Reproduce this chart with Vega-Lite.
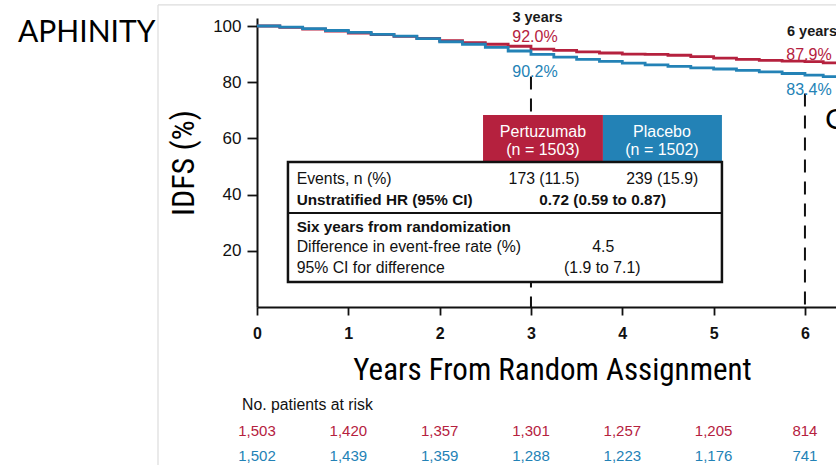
{
  "$schema": "https://vega.github.io/schema/vega-lite/v6.json",
  "width": 579,
  "height": 289,
  "autosize": {"type": "none"},
  "padding": {"left": 257, "top": 18, "right": 0, "bottom": 158},
  "background": "white",
  "config": {"view": {"stroke": null}, "font": "Liberation Sans"},
  "datasets": {
    "km": [
      {"arm": "Pertuzumab", "x": 0, "y": 100}, {"arm": "Pertuzumab", "x": 0.25, "y": 99.5}, {"arm": "Pertuzumab", "x": 0.5, "y": 98.9}, {"arm": "Pertuzumab", "x": 0.75, "y": 98.2},
      {"arm": "Pertuzumab", "x": 1.0, "y": 97.5}, {"arm": "Pertuzumab", "x": 1.25, "y": 96.9}, {"arm": "Pertuzumab", "x": 1.5, "y": 96.3}, {"arm": "Pertuzumab", "x": 1.75, "y": 95.6},
      {"arm": "Pertuzumab", "x": 2.0, "y": 94.8}, {"arm": "Pertuzumab", "x": 2.25, "y": 94.1}, {"arm": "Pertuzumab", "x": 2.5, "y": 93.5}, {"arm": "Pertuzumab", "x": 2.75, "y": 92.8},
      {"arm": "Pertuzumab", "x": 3.0, "y": 91.8}, {"arm": "Pertuzumab", "x": 3.25, "y": 91.3}, {"arm": "Pertuzumab", "x": 3.5, "y": 90.8}, {"arm": "Pertuzumab", "x": 3.75, "y": 90.4},
      {"arm": "Pertuzumab", "x": 4.0, "y": 90.0}, {"arm": "Pertuzumab", "x": 4.25, "y": 89.9}, {"arm": "Pertuzumab", "x": 4.5, "y": 89.6}, {"arm": "Pertuzumab", "x": 4.75, "y": 89.1},
      {"arm": "Pertuzumab", "x": 5.0, "y": 88.6}, {"arm": "Pertuzumab", "x": 5.25, "y": 88.1}, {"arm": "Pertuzumab", "x": 5.5, "y": 87.8}, {"arm": "Pertuzumab", "x": 5.75, "y": 87.5},
      {"arm": "Pertuzumab", "x": 6.0, "y": 87.3}, {"arm": "Pertuzumab", "x": 6.2, "y": 86.9}, {"arm": "Pertuzumab", "x": 6.34, "y": 86.7},
      {"arm": "Placebo", "x": 0, "y": 100}, {"arm": "Placebo", "x": 0.25, "y": 99.6}, {"arm": "Placebo", "x": 0.5, "y": 99.1}, {"arm": "Placebo", "x": 0.75, "y": 98.4},
      {"arm": "Placebo", "x": 1.0, "y": 97.7}, {"arm": "Placebo", "x": 1.25, "y": 97.0}, {"arm": "Placebo", "x": 1.5, "y": 96.4}, {"arm": "Placebo", "x": 1.75, "y": 95.5},
      {"arm": "Placebo", "x": 2.0, "y": 94.4}, {"arm": "Placebo", "x": 2.25, "y": 93.5}, {"arm": "Placebo", "x": 2.5, "y": 92.4}, {"arm": "Placebo", "x": 2.75, "y": 91.1},
      {"arm": "Placebo", "x": 3.0, "y": 89.9}, {"arm": "Placebo", "x": 3.25, "y": 88.9}, {"arm": "Placebo", "x": 3.5, "y": 88.1}, {"arm": "Placebo", "x": 3.75, "y": 87.4},
      {"arm": "Placebo", "x": 4.0, "y": 86.8}, {"arm": "Placebo", "x": 4.25, "y": 86.2}, {"arm": "Placebo", "x": 4.5, "y": 85.6}, {"arm": "Placebo", "x": 4.75, "y": 85.1},
      {"arm": "Placebo", "x": 5.0, "y": 84.7}, {"arm": "Placebo", "x": 5.25, "y": 84.2}, {"arm": "Placebo", "x": 5.5, "y": 83.7}, {"arm": "Placebo", "x": 5.75, "y": 83.1},
      {"arm": "Placebo", "x": 6.0, "y": 82.5}, {"arm": "Placebo", "x": 6.2, "y": 82.0}, {"arm": "Placebo", "x": 6.34, "y": 81.7}
    ],
    "frame": [
      {"x": -1.084, "y": 107.5, "x2": -1.084, "y2": -56.2},
      {"x": -1.084, "y": 107.5, "x2": 6.34, "y2": 107.5}
    ],
    "guides": [
      {"x": 3, "y": 82, "y2": 0},
      {"x": 6, "y": 76, "y2": 0}
    ],
    "headers": [
      {"arm": "Pertuzumab", "x": 2.475, "x2": 3.788, "y": 68.3, "y2": 51.6},
      {"arm": "Placebo", "x": 3.788, "x2": 5.091, "y": 68.3, "y2": 51.6}
    ],
    "box": [{"x": 0.339, "x2": 5.091, "y": 51.6, "y2": 8.9}],
    "divider": [{"x": 0.339, "x2": 5.091, "y": 33.45}],
    "notes": [
      {"kind": "brand", "text": "APHINITY", "x": -2.617, "y": 97.5},
      {"kind": "yr", "text": "3 years", "x": 3.071, "y": 102.85},
      {"kind": "yr", "text": "6 years", "x": 6.077, "y": 97.9},
      {"kind": "pct", "arm": "Pertuzumab", "text": "92.0%", "x": 3.044, "y": 96.1},
      {"kind": "pct", "arm": "Placebo", "text": "90.2%", "x": 3.044, "y": 83.6},
      {"kind": "pct", "arm": "Pertuzumab", "text": "87.9%", "x": 6.044, "y": 89.7},
      {"kind": "pct", "arm": "Placebo", "text": "83.4%", "x": 6.044, "y": 77.2},
      {"kind": "big", "text": "C", "x": 6.219, "y": 66.5},
      {"kind": "hdr", "text": "Pertuzumab", "x": 3.131, "y": 62.4},
      {"kind": "hdr", "text": "(n = 1503)", "x": 3.131, "y": 55.9},
      {"kind": "hdr", "text": "Placebo", "x": 4.434, "y": 62.4},
      {"kind": "hdr", "text": "(n = 1502)", "x": 4.434, "y": 55.9},
      {"kind": "lab", "text": "Events, n (%)", "x": 0.434, "y": 45.4},
      {"kind": "val", "text": "173 (11.5)", "x": 3.143, "y": 45.4},
      {"kind": "val", "text": "239 (15.9)", "x": 4.438, "y": 45.4},
      {"kind": "labb", "text": "Unstratified HR (95% CI)", "x": 0.434, "y": 38.1},
      {"kind": "valb", "text": "0.72 (0.59 to 0.87)", "x": 3.785, "y": 38.1},
      {"kind": "labb", "text": "Six years from randomization", "x": 0.434, "y": 28.6},
      {"kind": "lab", "text": "Difference in event-free rate (%)", "x": 0.434, "y": 21.5},
      {"kind": "val", "text": "4.5", "x": 3.792, "y": 21.5},
      {"kind": "lab", "text": "95% CI for difference", "x": 0.434, "y": 14.0},
      {"kind": "val", "text": "(1.9 to 7.1)", "x": 3.781, "y": 14.0},
      {"kind": "lab", "text": "No. patients at risk", "x": -0.164, "y": -34.9}
    ],
    "risk": [
      {"arm": "Pertuzumab", "x": 0, "y": -44.1, "n": "1,503"}, {"arm": "Pertuzumab", "x": 1, "y": -44.1, "n": "1,420"}, {"arm": "Pertuzumab", "x": 2, "y": -44.1, "n": "1,357"},
      {"arm": "Pertuzumab", "x": 3, "y": -44.1, "n": "1,301"}, {"arm": "Pertuzumab", "x": 4, "y": -44.1, "n": "1,257"}, {"arm": "Pertuzumab", "x": 5, "y": -44.1, "n": "1,205"}, {"arm": "Pertuzumab", "x": 6, "y": -44.1, "n": "814"},
      {"arm": "Placebo", "x": 0, "y": -53.0, "n": "1,502"}, {"arm": "Placebo", "x": 1, "y": -53.0, "n": "1,439"}, {"arm": "Placebo", "x": 2, "y": -53.0, "n": "1,359"},
      {"arm": "Placebo", "x": 3, "y": -53.0, "n": "1,288"}, {"arm": "Placebo", "x": 4, "y": -53.0, "n": "1,223"}, {"arm": "Placebo", "x": 5, "y": -53.0, "n": "1,176"}, {"arm": "Placebo", "x": 6, "y": -53.0, "n": "741"}
    ]
  },
  "encoding": {
    "x": {
      "field": "x", "type": "quantitative",
      "scale": {"domain": [0, 6.34], "nice": false, "zero": false},
      "axis": {
        "values": [0, 1, 2, 3, 4, 5, 6], "format": "d", "grid": false,
        "title": "Years From Random Assignment",
        "domainColor": "#111", "domainWidth": 2,
        "tickColor": "#111", "tickWidth": 1.8, "tickSize": 8,
        "labelFont": "Liberation Sans", "labelFontSize": 16, "labelFontWeight": "bold", "labelColor": "#111",
        "labelPadding": 18, "labelBaseline": "middle", "labelFlush": false, "labelOverlap": false,
        "titleFont": "Roboto Condensed, DejaVu Sans Condensed, Liberation Sans Narrow, Arial Narrow, Liberation Sans, sans-serif",
        "titleFontSize": 31, "titleFontWeight": "normal", "titleColor": "#000",
        "titleY": 63, "titleBaseline": "middle", "titleX": 295
      }
    },
    "y": {
      "field": "y", "type": "quantitative",
      "scale": {"domain": [0, 102.85], "nice": false, "zero": false},
      "axis": {
        "values": [20, 40, 60, 80, 100], "grid": false,
        "title": "IDFS (%)",
        "domainColor": "#111", "domainWidth": 2,
        "tickColor": "#111", "tickWidth": 1.8, "tickSize": 10,
        "labelFont": "Liberation Sans", "labelFontSize": 17, "labelColor": "#111", "labelPadding": 6,
        "titleFont": "Roboto Condensed, DejaVu Sans Condensed, Liberation Sans Narrow, Arial Narrow, Liberation Sans, sans-serif",
        "titleFontSize": 32, "titleFontWeight": "normal", "titleColor": "#000",
        "titleAngle": -90, "titleX": -74, "titleY": 144.5, "titleBaseline": "middle", "titleAlign": "center"
      }
    }
  },
  "layer": [
    {
      "data": {"name": "frame"},
      "mark": {"type": "rule", "color": "#dcdcdc", "strokeWidth": 1.2},
      "encoding": {"x2": {"field": "x2"}, "y2": {"field": "y2"}}
    },
    {
      "data": {"name": "km"},
      "mark": {"type": "line", "interpolate": "step-after", "strokeWidth": 2.8, "clip": true},
      "encoding": {
        "color": {"field": "arm", "type": "nominal", "scale": {"domain": ["Pertuzumab", "Placebo"], "range": ["#b5213e", "#2382b6"]}, "legend": null},
        "order": {"field": "x", "type": "quantitative"}
      }
    },
    {
      "data": {"name": "guides"},
      "mark": {"type": "rule", "color": "#111", "strokeWidth": 2, "strokeDash": [13, 9]},
      "encoding": {"y2": {"field": "y2"}}
    },
    {
      "data": {"name": "headers"},
      "mark": {"type": "rect"},
      "encoding": {
        "x2": {"field": "x2"}, "y2": {"field": "y2"},
        "color": {"field": "arm", "type": "nominal", "legend": null}
      }
    },
    {
      "data": {"name": "box"},
      "mark": {"type": "rect", "fill": "white", "stroke": "#111", "strokeWidth": 2.5},
      "encoding": {"x2": {"field": "x2"}, "y2": {"field": "y2"}}
    },
    {
      "data": {"name": "divider"},
      "mark": {"type": "rule", "color": "#111", "strokeWidth": 2},
      "encoding": {"x2": {"field": "x2"}}
    },
    {
      "data": {"name": "notes"},
      "transform": [{"filter": "datum.kind === 'brand'"}],
      "mark": {"type": "text", "align": "left", "baseline": "middle", "font": "Lato", "fontSize": 30, "color": "#000"},
      "encoding": {"text": {"field": "text"}}
    },
    {
      "data": {"name": "notes"},
      "transform": [{"filter": "datum.kind === 'yr'"}],
      "mark": {"type": "text", "align": "center", "baseline": "middle", "fontSize": 14.5, "fontWeight": "bold", "color": "#1a1a1a"},
      "encoding": {"text": {"field": "text"}}
    },
    {
      "data": {"name": "notes"},
      "transform": [{"filter": "datum.kind === 'pct'"}],
      "mark": {"type": "text", "align": "center", "baseline": "middle", "fontSize": 16},
      "encoding": {"text": {"field": "text"}, "color": {"field": "arm", "type": "nominal", "legend": null}}
    },
    {
      "data": {"name": "notes"},
      "transform": [{"filter": "datum.kind === 'big'"}],
      "mark": {"type": "text", "align": "left", "baseline": "middle", "fontSize": 30, "color": "#000"},
      "encoding": {"text": {"field": "text"}}
    },
    {
      "data": {"name": "notes"},
      "transform": [{"filter": "datum.kind === 'hdr'"}],
      "mark": {"type": "text", "align": "center", "baseline": "middle", "fontSize": 16, "color": "white"},
      "encoding": {"text": {"field": "text"}}
    },
    {
      "data": {"name": "notes"},
      "transform": [{"filter": "datum.kind === 'lab'"}],
      "mark": {"type": "text", "align": "left", "baseline": "middle", "fontSize": 15.8, "color": "#111"},
      "encoding": {"text": {"field": "text"}}
    },
    {
      "data": {"name": "notes"},
      "transform": [{"filter": "datum.kind === 'labb'"}],
      "mark": {"type": "text", "align": "left", "baseline": "middle", "fontSize": 15.3, "fontWeight": "bold", "color": "#111"},
      "encoding": {"text": {"field": "text"}}
    },
    {
      "data": {"name": "notes"},
      "transform": [{"filter": "datum.kind === 'val'"}],
      "mark": {"type": "text", "align": "center", "baseline": "middle", "fontSize": 15.8, "color": "#111"},
      "encoding": {"text": {"field": "text"}}
    },
    {
      "data": {"name": "notes"},
      "transform": [{"filter": "datum.kind === 'valb'"}],
      "mark": {"type": "text", "align": "center", "baseline": "middle", "fontSize": 15.3, "fontWeight": "bold", "color": "#111"},
      "encoding": {"text": {"field": "text"}}
    },
    {
      "data": {"name": "risk"},
      "mark": {"type": "text", "align": "center", "baseline": "middle", "fontSize": 15},
      "encoding": {"text": {"field": "n"}, "color": {"field": "arm", "type": "nominal", "legend": null}}
    }
  ]
}
